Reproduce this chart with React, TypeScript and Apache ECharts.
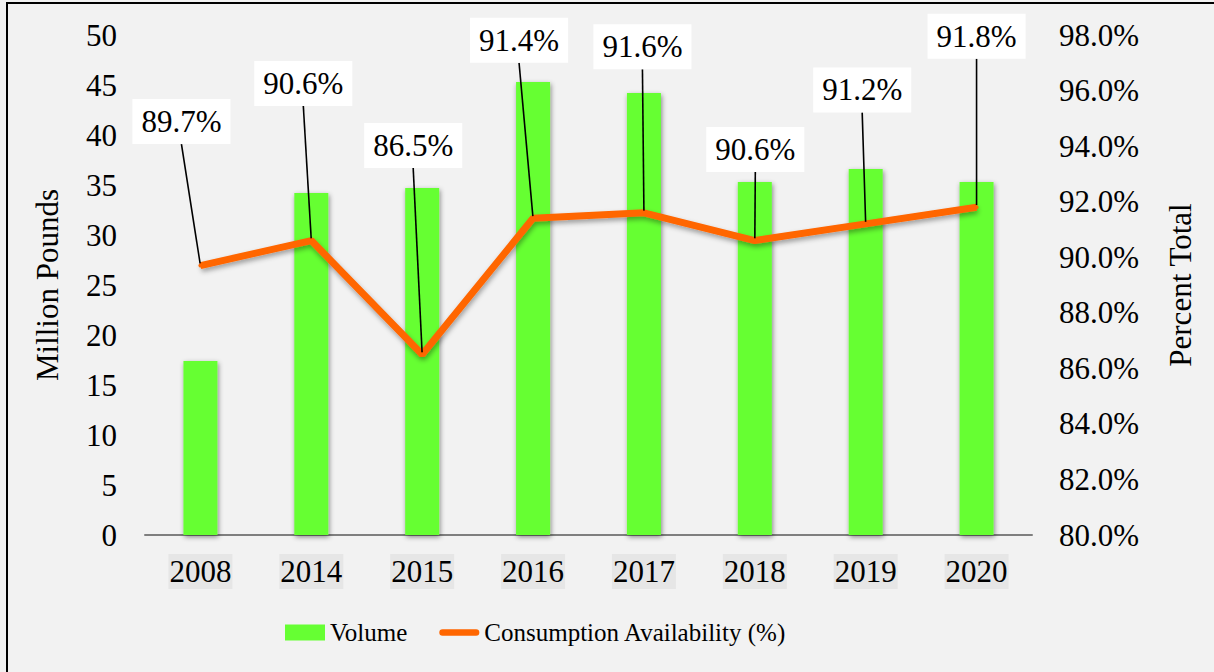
import React, { useEffect, useRef } from "react";
import * as echarts from "echarts";

const categories = ["2008", "2014", "2015", "2016", "2017", "2018", "2019", "2020"];
const volume = [17.4, 34.2, 34.7, 45.3, 44.2, 35.3, 36.6, 35.3];
const availability = [89.7, 90.6, 86.5, 91.4, 91.6, 90.6, 91.2, 91.8];
const leftTicks = { min: 0, max: 50, interval: 5 };
const rightTicks = { min: 80, max: 98, interval: 2 };
// label offsets (px) from each point to its callout box centre
const labelDx = [-19, -8, -9, -14, -1.5, 0.5, -3.5, 0];
const labelDy = [-144, -157, -209, -178, -166, -91, -134, -171];

const FONT = "Liberation Serif";

export default function App() {
  const ref = useRef<HTMLDivElement>(null);
  useEffect(() => {
    if (!ref.current) return;
    const chart = echarts.init(ref.current, undefined, { renderer: "svg" });
    chart.setOption({
      animation: false,
      backgroundColor: "#F2F2F2",
      textStyle: { fontFamily: FONT, color: "#000" },
      graphic: [
        {
          type: "rect",
          shape: { x: 7, y: 3, width: 1230, height: 700 },
          style: { fill: "none", stroke: "#000", lineWidth: 2 },
          silent: true,
        },
      ],
      grid: { left: 145, right: 182, top: 35, bottom: 137 },
      legend: {
        left: 285,
        top: 620,
        padding: 0,
        itemWidth: 40,
        itemHeight: 16,
        itemGap: 32,
        textStyle: { fontFamily: FONT, fontSize: 25, color: "#000" },
        data: [
          { name: "Volume", icon: "rect" },
          { name: "Consumption Availability (%)", icon: "path://M3.5,0 L39.5,0 A3.5,3.5 0 0 1 39.5,7 L3.5,7 A3.5,3.5 0 0 1 3.5,0 Z" },
        ],
      },
      xAxis: {
        type: "category",
        data: categories,
        axisLine: { lineStyle: { color: "#7F7F7F", width: 2 } },
        axisTick: { show: false },
        axisLabel: {
          fontFamily: FONT,
          fontSize: 31,
          color: "#000",
          margin: 19,
          backgroundColor: "#E6E6E6",
          padding: [0, 1],
          lineHeight: 35,
        },
      },
      yAxis: [
        {
          type: "value",
          ...leftTicks,
          name: "Million Pounds",
          nameLocation: "middle",
          nameRotate: 90,
          nameGap: 82,
          nameTextStyle: { fontFamily: FONT, fontSize: 31, color: "#000" },
          axisLine: { show: false },
          axisTick: { show: false },
          splitLine: { show: false },
          axisLabel: { fontFamily: FONT, fontSize: 31, color: "#000", margin: 28 },
        },
        {
          type: "value",
          ...rightTicks,
          name: "Percent Total",
          nameLocation: "middle",
          nameRotate: 90,
          nameGap: 133,
          nameTextStyle: { fontFamily: FONT, fontSize: 31, color: "#000" },
          axisLine: { show: false },
          axisTick: { show: false },
          splitLine: { show: false },
          axisLabel: {
            fontFamily: FONT,
            fontSize: 31,
            color: "#000",
            margin: 27,
            formatter: (v: number) => v.toFixed(1) + "%",
          },
        },
      ],
      series: [
        {
          name: "Volume",
          type: "bar",
          data: volume,
          barWidth: 34,
          itemStyle: {
            color: "#66FF33",
            shadowColor: "rgba(0,0,0,0.45)",
            shadowBlur: 5,
            shadowOffsetX: 1,
            shadowOffsetY: 2,
          },
        },
        {
          name: "Consumption Availability (%)",
          type: "line",
          yAxisIndex: 1,
          data: availability,
          symbol: "circle",
          symbolSize: 4,
          itemStyle: { color: "#FF6600" },
          lineStyle: {
            color: "#FF6600",
            width: 7,
            shadowColor: "rgba(0,0,0,0.35)",
            shadowBlur: 5,
            shadowOffsetX: 1,
            shadowOffsetY: 3,
          },
          label: {
            show: true,
            position: "inside",
            fontFamily: FONT,
            fontSize: 31,
            color: "#000",
            backgroundColor: "#FFFFFF",
            padding: [4, 9],
            lineHeight: 37,
            formatter: (p: any) => p.value.toFixed(1) + "%",
          },
          labelLine: { show: true, lineStyle: { color: "#000", width: 1.6 } },
          labelLayout: (p: any) => ({ dx: labelDx[p.dataIndex], dy: labelDy[p.dataIndex] }),
          z: 5,
        },
      ],
    });
    return () => chart.dispose();
  }, []);
  return <div ref={ref} style={{ position: "fixed", left: 0, top: 0, width: 1214, height: 672 }} />;
}
